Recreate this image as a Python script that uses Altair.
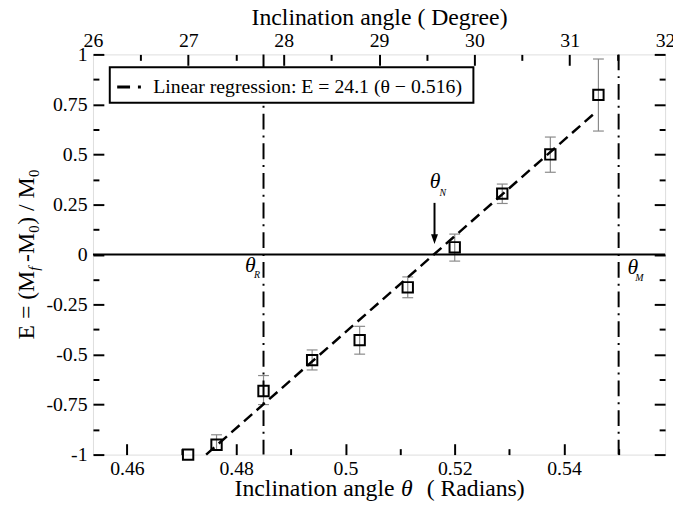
import math
import altair as alt
import pandas as pd

FONT = "Liberation Serif"
GRAY = "#8a8a8a"

# ---------------- data ----------------
theta = [0.4712, 0.4764, 0.4850, 0.4939, 0.5026, 0.5114, 0.5200, 0.5287, 0.5375, 0.5463]
E_val = [-1.000, -0.951, -0.682, -0.528, -0.428, -0.164, 0.036, 0.304, 0.500, 0.798]
E_lo = [None, -0.975, -0.750, -0.577, -0.498, -0.216, -0.033, 0.255, 0.411, 0.617]
E_hi = [None, -0.901, -0.605, -0.477, -0.359, -0.112, 0.102, 0.352, 0.587, 0.977]

reg_theta = [0.4745, 0.5458]
reg_E = [-1.0, 0.711]
reg_label = "Linear regression: E = 24.1 (θ  − 0.516)\u00a0"

vline_theta = [0.485, 0.550]          # theta_R, theta_M

ann_theta = [0.4826, 0.5526, 0.5164]   # big theta symbols
ann_E = [-0.054, -0.063, 0.365]
sub_text = ["R", "M", "N"]
sub_theta = [0.4838, 0.5538, 0.5178]
sub_E = [-0.104, -0.120, 0.307]

arrow_theta = [0.5163]
arrow_top = [0.258]
arrow_end = [0.075]
arrow_head = [0.077]

# tick values / labels
x_lab = [0.46, 0.48, 0.50, 0.52, 0.54]
x_minor = [0.47, 0.49, 0.51, 0.53, 0.55]
deg_lab = [26, 27, 28, 29, 30, 31, 32]
deg_major_in = [27, 28, 29, 30, 31]
deg_minor = [26.5, 27.5, 28.5, 29.5, 30.5, 31.5]
y_lab = [-1, -0.75, -0.5, -0.25, 0, 0.25, 0.5, 0.75, 1]
y_minor = [-0.875, -0.625, -0.375, -0.125, 0.125, 0.375, 0.625, 0.875]
deg_domain = [26, 32]

rad = lambda d: d * math.pi / 180.0

df_pts = pd.DataFrame({"theta": theta, "E": E_val})
df_err = pd.DataFrame({"theta": theta, "lo": E_lo, "hi": E_hi}).dropna()
df_reg = pd.DataFrame({"theta": reg_theta, "E": reg_E})
df_v = pd.DataFrame({"theta": vline_theta, "label": [reg_label] * len(vline_theta)})
df_zero = pd.DataFrame({"E": [0.0]})
df_ann = pd.DataFrame({"theta": ann_theta, "E": ann_E, "t": ["θ"] * 3})
df_sub = pd.DataFrame({"theta": sub_theta, "E": sub_E, "t": sub_text})
df_arrow = pd.DataFrame({"theta": arrow_theta, "top": arrow_top, "end": arrow_end, "head": arrow_head})

W, H = 579, 405
xs = alt.Scale(domain=[rad(d) for d in deg_domain], nice=False, zero=False)
ys = alt.Scale(domain=[-1, 1], nice=False, zero=False)


def label_axis(orient, values, expr, pad, **kw):
    return alt.Axis(orient=orient, values=values, labelExpr=expr, ticks=False, domain=False,
                    grid=False, labelFont=FONT, labelFontSize=20, labelColor="black",
                    labelPadding=pad, labelFlush=False, labelOverlap=False, **kw)


def tick_axis(orient, values, size, offset):
    return alt.Axis(orient=orient, values=values, tickSize=size, offset=offset, labels=False,
                    domain=False, grid=False, title=None, tickColor="black", tickWidth=2)


AX_bottom_lab = label_axis("bottom", x_lab, "'' + datum.value", 4, title=None)
AX_top_lab = label_axis("top", [rad(d) for d in deg_lab], "'' + round(datum.value * 180 / PI)", 4,
                        title="Inclination angle ( Degree)", titleFont=FONT, titleFontSize=24,
                        titleFontWeight="normal", titleColor="black", titleX=W / 2, titleY=-30,
                        titleBaseline="alphabetic")
AX_bot_major = tick_axis("top", x_lab, 11, -H)
AX_bot_minor = tick_axis("top", x_minor, 6, -H)
AX_top_major = tick_axis("bottom", [rad(d) for d in deg_major_in], 11, -H)
AX_top_minor = tick_axis("bottom", [rad(d) for d in deg_minor], 6, -H)

AY_left_lab = label_axis("left", y_lab, "'' + datum.value", 6, title=None)
AY_left_major = tick_axis("right", y_lab, 11, -W)
AY_left_minor = tick_axis("right", y_minor, 6, -W)
AY_right_major = tick_axis("left", y_lab, 11, -W)
AY_right_minor = tick_axis("left", y_minor, 6, -W)

err = alt.Chart(df_err).mark_rule(color=GRAY, strokeWidth=1.2).encode(
    x=alt.X("theta:Q", scale=xs, axis=AX_bottom_lab),
    y=alt.Y("lo:Q", scale=ys, axis=AY_left_lab),
    y2="hi:Q",
)
cap_lo = alt.Chart(df_err).mark_tick(orient="horizontal", size=11, thickness=1.2, color=GRAY, opacity=1).encode(
    x=alt.X("theta:Q", scale=xs, axis=AX_bot_major),
    y=alt.Y("lo:Q", scale=ys, axis=AY_left_major),
)
cap_hi = alt.Chart(df_err).mark_tick(orient="horizontal", size=11, thickness=1.2, color=GRAY, opacity=1).encode(
    x=alt.X("theta:Q", scale=xs, axis=AX_bot_minor),
    y=alt.Y("hi:Q", scale=ys, axis=AY_left_minor),
)
vlines = alt.Chart(df_v).mark_rule(strokeWidth=2, strokeDash=[16, 6, 2, 6]).encode(
    x=alt.X("theta:Q", scale=xs, axis=AX_top_lab),
    color=alt.Color("label:N", scale=alt.Scale(range=["black"]),
                    legend=alt.Legend(title=None, orient="none", legendX=17, legendY=13,
                                      strokeColor="black", fillColor="white", padding=6,
                                      labelFont=FONT, labelFontSize=20, labelColor="black",
                                      labelLimit=600, labelOffset=10, symbolType="stroke",
                                      symbolSize=625, symbolStrokeWidth=3,
                                      symbolDash=[13, 8, 3, 40], symbolStrokeColor="black")),
)
zero = alt.Chart(df_zero).mark_rule(color="black", strokeWidth=2).encode(
    y=alt.Y("E:Q", scale=ys, axis=AY_right_major),
)
reg = alt.Chart(df_reg).mark_line(color="black", strokeWidth=2.5, strokeDash=[11, 6]).encode(
    x=alt.X("theta:Q", scale=xs, axis=AX_top_major),
    y=alt.Y("E:Q", scale=ys, axis=AY_right_minor),
)
pts = alt.Chart(df_pts).mark_point(shape="square", filled=False, size=110, strokeWidth=2,
                                   color="black", opacity=1).encode(
    x=alt.X("theta:Q", scale=xs, axis=AX_top_minor),
    y=alt.Y("E:Q", scale=ys, axis=None),
)
arrow = alt.Chart(df_arrow).mark_rule(color="black", strokeWidth=2).encode(
    x=alt.X("theta:Q", scale=xs, axis=None),
    y=alt.Y("top:Q", scale=ys, axis=None),
    y2="end:Q",
)
head = alt.Chart(df_arrow).mark_point(shape="M-0.7,-1L0.7,-1L0,1Z", filled=True, size=100,
                                      color="black", opacity=1).encode(
    x=alt.X("theta:Q", scale=xs, axis=None),
    y=alt.Y("head:Q", scale=ys, axis=None),
)
ann = alt.Chart(df_ann).mark_text(font=FONT, fontSize=22, fontStyle="italic", color="black",
                                  baseline="middle", align="center").encode(
    x=alt.X("theta:Q", scale=xs, axis=None),
    y=alt.Y("E:Q", scale=ys, axis=None),
    text="t:N",
)
sub = alt.Chart(df_sub).mark_text(font=FONT, fontSize=10, fontStyle="italic", color="black",
                                  baseline="middle", align="center").encode(
    x=alt.X("theta:Q", scale=xs, axis=None),
    y=alt.Y("E:Q", scale=ys, axis=None),
    text="t:N",
)

one = alt.Data(values=[{}])


def txt(s, x, y, size=24, style="normal", align="left", angle=0):
    return alt.Chart(one).mark_text(text=s, font=FONT, fontSize=size, fontStyle=style, color="black",
                                    align=align, baseline="alphabetic", angle=angle).encode(
        x=alt.value(x), y=alt.value(y))


# bottom axis title (with italic theta)
xt = [
    txt("Inclination angle", 143.3, 446.6),
    txt("θ", 317.7, 446.6, style="italic", align="center"),
    txt("( Radians)", 337.7, 446.6),
]
# left axis title, rotated, with subscripts
yt = [
    txt("E = (M", -60, 288.5, angle=270),
    txt("f", -55, 219.0, size=15, style="italic", angle=270),
    txt("-M", -60, 210.0, angle=270),
    txt("0", -55, 180.5, size=15, angle=270),
    txt(") / M", -60, 172.5, angle=270),
    txt("0", -55, 124.0, size=15, angle=270),
]

chart = alt.layer(err, cap_lo, cap_hi, vlines, zero, reg, pts, arrow, head, ann, sub, *xt, *yt).resolve_axis(
    x="independent", y="independent"
).properties(
    width=W, height=H,
    autosize=alt.AutoSizeParams(type="none"),
    padding={"left": 86, "top": 44, "right": 8, "bottom": 44},
).configure_view(stroke="black", strokeWidth=2.5).configure(font=FONT).configure_legend(strokeWidth=2)

chart.save("out.html", embed_options={"renderer": "svg", "actions": False})
